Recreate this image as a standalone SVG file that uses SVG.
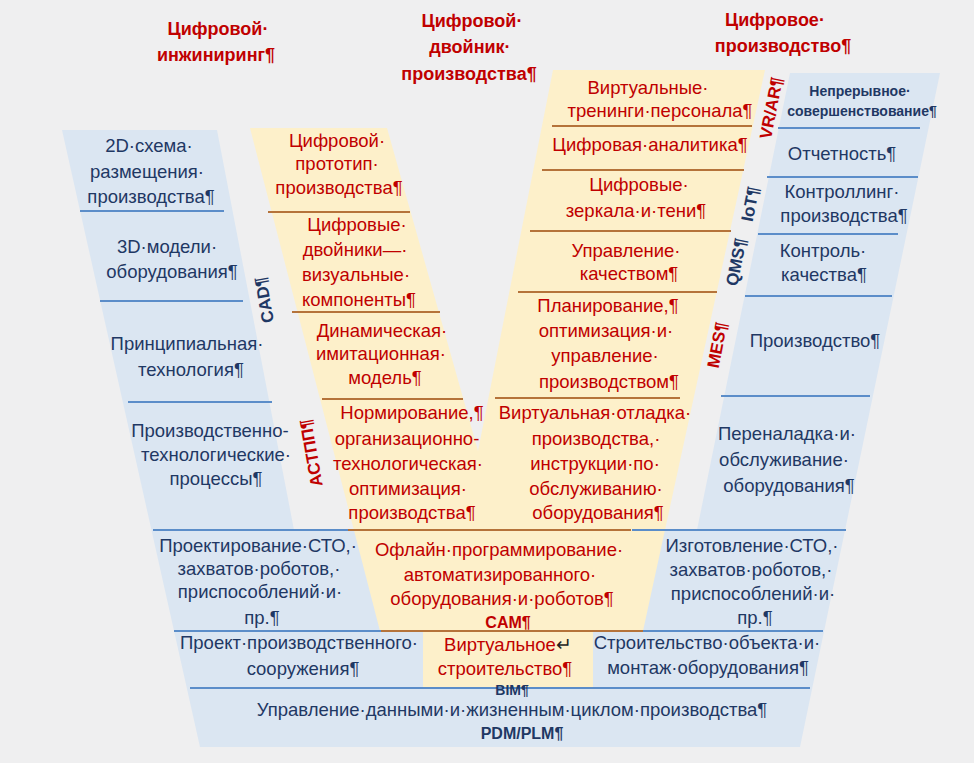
<svg xmlns="http://www.w3.org/2000/svg" width="974" height="763" viewBox="0 0 974 763">
<style>
text{font-family:"Liberation Sans",Arial,sans-serif;text-anchor:middle}
.t{font-size:18.5px}
.n{fill:#1f3864}
.r{fill:#c00000}
.b{font-weight:bold}
.title{font-size:18px;font-weight:bold;fill:#c00000}
.lab{font-size:17px;font-weight:bold}
.sm{font-size:14px;font-weight:bold;fill:#1f3864}
.bl{stroke:#5b8dc9;stroke-width:2;fill:none}
.br{stroke:#b5733a;stroke-width:2;fill:none}
</style>
<rect x="0" y="0" width="974" height="763" fill="#efeff0"/>
<g id="shapes">
<polygon id="blue-v" points="62,130 217,130 294,530 697,530 790,73 940,73 800,747 200,747" fill="#dbe6f2"/>
<polygon id="cream-v" points="250,128 387,128 478,451 553,70 765,70 643,631 593,631 593,688 423,688 423,631 380,631" fill="#fdf0ca"/>
</g>
<g id="connectors">
<line class="bl" x1="80" y1="211" x2="224" y2="211"/>
<line class="bl" x1="100" y1="301" x2="243" y2="301"/>
<line class="bl" x1="128" y1="402" x2="272" y2="402"/>
<line class="bl" x1="153" y1="530" x2="350" y2="530"/>
<line class="bl" x1="632" y1="530" x2="846" y2="530"/>
<line class="bl" x1="174" y1="631" x2="823" y2="631"/>
<line class="bl" x1="190" y1="688" x2="810" y2="688"/>
<line class="bl" x1="778" y1="128" x2="920" y2="128"/>
<line class="bl" x1="767" y1="177" x2="918" y2="177"/>
<line class="bl" x1="758" y1="234" x2="898" y2="234"/>
<line class="bl" x1="745" y1="296" x2="892" y2="296"/>
<line class="bl" x1="721" y1="396" x2="870" y2="396"/>
<line class="br" x1="268" y1="212" x2="410" y2="212"/>
<line class="br" x1="292" y1="312" x2="440" y2="312"/>
<line class="br" x1="322" y1="399" x2="463" y2="399"/>
<line class="br" x1="348" y1="530" x2="631" y2="530"/>
<line class="br" x1="552" y1="126" x2="752" y2="126"/>
<line class="br" x1="542" y1="170" x2="744" y2="170"/>
<line class="br" x1="530" y1="231" x2="731" y2="231"/>
<line class="br" x1="518" y1="292" x2="717" y2="292"/>
<line class="br" x1="495" y1="398" x2="680" y2="398"/>
<line class="br" x1="381" y1="631" x2="643" y2="631"/>
</g>
<g id="title-engineering"><text class="title" x="218" y="35">Цифровой·</text><text class="title" x="216" y="61">инжиниринг¶</text></g>
<g id="title-twin"><text class="title" x="472" y="27">Цифровой·</text><text class="title" x="470" y="53">двойник·</text><text class="title" x="469" y="80">производства¶</text></g>
<g id="title-production"><text class="title" x="775" y="26">Цифровое·</text><text class="title" x="783" y="52">производство¶</text></g>
<g id="n-2d" class="t n"><text x="149" y="152">2D·схема·</text><text x="147" y="178">размещения·</text><text x="151" y="203">производства¶</text></g>
<g id="n-3d" class="t n"><text x="167" y="253">3D·модели·</text><text x="172" y="278">оборудования¶</text></g>
<g id="n-tech" class="t n"><text x="187" y="350">Принципиальная·</text><text x="191" y="376">технология¶</text></g>
<g id="n-proc" class="t n"><text x="210" y="437">Производственно-</text><text x="216" y="461">технологические·</text><text x="216" y="485">процессы¶</text></g>
<g id="n-design-sto" class="t n"><text x="258" y="552">Проектирование·СТО,·</text><text x="259" y="575">захватов·роботов,·</text><text x="260" y="598">приспособлений·и·</text><text x="262" y="624">пр.¶</text></g>
<g id="n-building-project" class="t n"><text x="299" y="649">Проект·производственного·</text><text x="303" y="675">сооружения¶</text></g>
<g id="n-pdm" class="t n"><text x="512" y="716">Управление·данными·и·жизненным·циклом·производства¶</text><text class="b" x="522" y="739" style="font-size:16px">PDM/PLM¶</text></g>
<g id="n-continuous"><text class="sm" x="860" y="96">Непрерывное·</text><text class="sm" x="862" y="116">совершенствование¶</text></g>
<g id="n-report" class="t n"><text x="842" y="160">Отчетность¶</text></g>
<g id="n-controlling" class="t n"><text x="842" y="198">Контроллинг·</text><text x="844" y="222">производства¶</text></g>
<g id="n-quality-control" class="t n"><text x="823" y="257">Контроль·</text><text x="824" y="281">качества¶</text></g>
<g id="n-production" class="t n"><text x="815" y="347">Производство¶</text></g>
<g id="n-changeover" class="t n"><text x="787" y="440">Переналадка·и·</text><text x="784" y="466">обслуживание·</text><text x="789" y="492">оборудования¶</text></g>
<g id="n-make-sto" class="t n"><text x="752" y="552">Изготовление·СТО,·</text><text x="751" y="576">захватов·роботов,·</text><text x="753" y="600">приспособлений·и·</text><text x="755" y="624">пр.¶</text></g>
<g id="n-construction" class="t n"><text x="707" y="649">Строительство·объекта·и·</text><text x="708" y="674">монтаж·оборудования¶</text></g>
<g id="c-prototype" class="t r"><text x="337" y="147">Цифровой·</text><text x="337" y="170">прототип·</text><text x="339" y="194">производства¶</text></g>
<g id="c-twins" class="t r"><text x="357" y="231">Цифровые·</text><text x="355" y="256">двойники—·</text><text x="356" y="281">визуальные·</text><text x="359" y="306">компоненты¶</text></g>
<g id="c-simulation" class="t r"><text x="382" y="337">Динамическая·</text><text x="381" y="360">имитационная·</text><text x="385" y="384">модель¶</text></g>
<g id="c-norming" class="t r"><text x="412" y="419">Нормирование,¶</text><text x="407" y="445">организационно-</text><text x="408" y="470">технологическая·</text><text x="408" y="495">оптимизация·</text><text x="412" y="519">производства¶</text></g>
<g id="c-training" class="t r"><text x="648" y="94">Виртуальные·</text><text x="660" y="117">тренинги·персонала¶</text></g>
<g id="c-analytics" class="t r"><text x="650" y="151">Цифровая·аналитика¶</text></g>
<g id="c-mirrors" class="t r"><text x="639" y="191">Цифровые·</text><text x="636" y="217">зеркала·и·тени¶</text></g>
<g id="c-quality" class="t r"><text x="626" y="257">Управление·</text><text x="629" y="280">качеством¶</text></g>
<g id="c-planning" class="t r"><text x="608" y="312">Планирование,¶</text><text x="606" y="337">оптимизация·и·</text><text x="605" y="362">управление·</text><text x="609" y="388">производством¶</text></g>
<g id="c-debug" class="t r"><text x="595" y="419">Виртуальная·отладка·</text><text x="596" y="445">производства,·</text><text x="595" y="470">инструкции·по·</text><text x="596" y="495">обслуживанию·</text><text x="598" y="519">оборудования¶</text></g>
<g id="c-cam" class="t r"><text x="499" y="556">Офлайн·программирование·</text><text x="500" y="581">автоматизированного·</text><text x="502" y="605">оборудования·и·роботов¶</text><text class="b" x="508" y="628" style="font-size:16px">CAM¶</text></g>
<g id="c-bim" class="t r"><text x="508" y="651">Виртуальное<tspan fill="#222">↵</tspan></text><text x="505" y="675">строительство¶</text></g>
<g id="l-bim"><text class="n b" x="512" y="695" style="font-size:14px">BIM¶</text></g>
<g id="l-cad"><text class="lab n" transform="translate(264,300) rotate(-100)" y="6">CAD¶</text></g>
<g id="l-astpp"><text class="lab r" transform="translate(311,453) rotate(-100)" y="6">АСТПП¶</text></g>
<g id="l-vrar"><text class="lab r" transform="translate(771,108) rotate(-79)" y="6">VR/AR¶</text></g>
<g id="l-iot"><text class="lab n" transform="translate(750,204) rotate(-79)" y="6">IoT¶</text></g>
<g id="l-qms"><text class="lab n" transform="translate(736,262) rotate(-79)" y="6">QMS¶</text></g>
<g id="l-mes"><text class="lab r" transform="translate(717,345) rotate(-79)" y="6">MES¶</text></g>
</svg>
